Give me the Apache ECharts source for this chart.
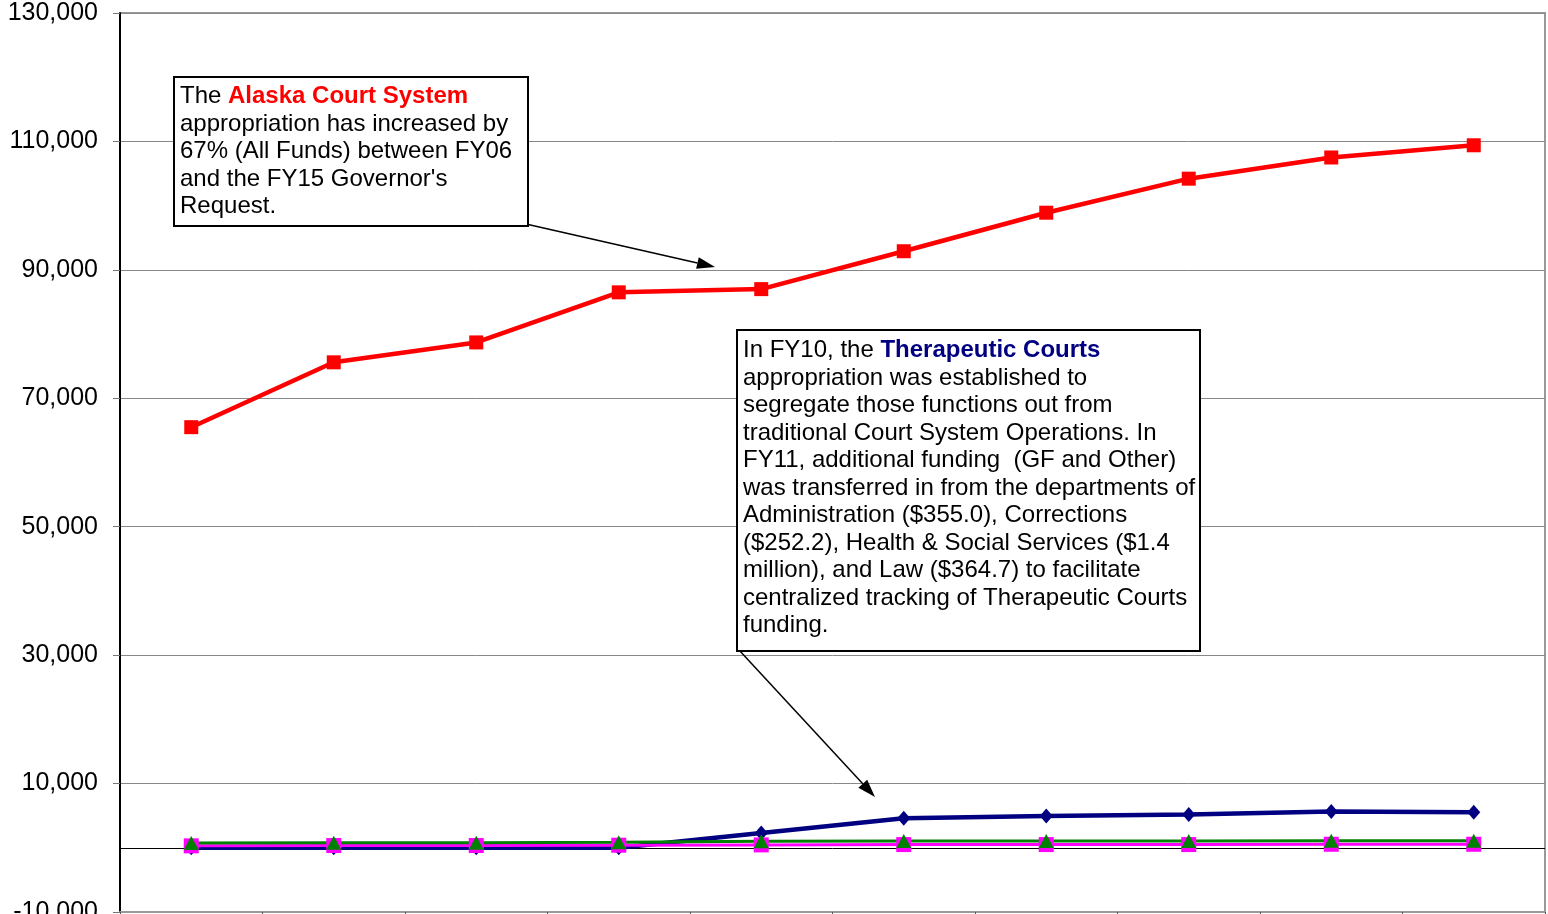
<!DOCTYPE html>
<html>
<head>
<meta charset="utf-8">
<script src="https://cdn.jsdelivr.net/npm/echarts@6/dist/echarts.min.js"></script>
<style>html,body{margin:0;padding:0;background:#fff;}#c{width:1548px;height:914px;}</style>
</head>
<body>
<div id="c"></div>
<script>
var categories = ['FY06','FY07','FY08','FY09','FY10','FY11','FY12','FY13','FY14','FY15'];
var alaskaCourtSystem = [65500, 75600, 78700, 86500, 87000, 92900, 98900, 104200, 107500, 109400];
var therapeuticCourts = [0, 0, 0, 0, 2300, 4600, 4950, 5200, 5650, 5550];
var commissionJudicialConduct = [300, 350, 350, 400, 450, 500, 500, 500, 550, 550];
var judicialCouncil = [750, 800, 800, 850, 1000, 1050, 1050, 1050, 1100, 1100];
var yTicks = {min: -10000, max: 130000, interval: 20000};

var chart = echarts.init(document.getElementById('c'), null, {renderer: 'canvas'});
var FONT = '"Liberation Sans", Arial, sans-serif';

function arrow(x1, y1, x2, y2) {
  var ang = Math.atan2(y2 - y1, x2 - x1);
  var L = 18, W = 6;
  var bx = x2 - L * Math.cos(ang), by = y2 - L * Math.sin(ang);
  var px = -Math.sin(ang) * W, py = Math.cos(ang) * W;
  return [
    {type: 'line', shape: {x1: x1, y1: y1, x2: bx, y2: by}, style: {stroke: '#000', lineWidth: 1.5}, z: 100},
    {type: 'polygon', shape: {points: [[x2, y2], [bx + px, by + py], [bx - px, by - py]]}, style: {fill: '#000'}, z: 100}
  ];
}

var graphics = [
  {type: 'rect', shape: {x: 174, y: 77, width: 354, height: 149}, style: {fill: '#fff', stroke: '#000', lineWidth: 2}, z: 101},
  {type: 'text', x: 180, y: 83, z: 102, style: {
    text: '{n|The }{r|Alaska Court System}\n{n|appropriation has increased by}\n{n|67% (All Funds) between FY06}\n{n|and the FY15 Governor\'s}\n{n|Request.}',
    font: '24px ' + FONT, fill: '#000', lineHeight: 27.5,
    rich: {
      n: {fontSize: 24, fontFamily: FONT, fill: '#000', lineHeight: 27.5},
      r: {fontSize: 24, fontFamily: FONT, fill: '#ff0000', fontWeight: 'bold', lineHeight: 27.5}
    }
  }},
  {type: 'rect', shape: {x: 737, y: 330, width: 463, height: 321}, style: {fill: '#fff', stroke: '#000', lineWidth: 2}, z: 101},
  {type: 'text', x: 743, y: 337, z: 102, style: {
    text: '{n|In FY10, the }{b|Therapeutic Courts}\n{n|appropriation was established to}\n{n|segregate those functions out from}\n{n|traditional Court System Operations. In}\n{n|FY11, additional funding  (GF and Other)}\n{n|was transferred in from the departments of}\n{n|Administration ($355.0), Corrections}\n{n|($252.2), Health & Social Services ($1.4}\n{n|million), and Law ($364.7) to facilitate}\n{n|centralized tracking of Therapeutic Courts}\n{n|funding.}',
    font: '24px ' + FONT, fill: '#000', lineHeight: 27.5,
    rich: {
      n: {fontSize: 24, fontFamily: FONT, fill: '#000', lineHeight: 27.5},
      b: {fontSize: 24, fontFamily: FONT, fill: '#000080', fontWeight: 'bold', lineHeight: 27.5}
    }
  }}
].concat(arrow(526, 224, 715, 267)).concat(arrow(739, 650, 875, 797));

var option = {
  backgroundColor: '#fff',
  animation: false,
  grid: {left: 120, right: 3, top: 13, bottom: 2, show: true, borderColor: '#999', borderWidth: 2,
         containLabel: false, outerBoundsMode: 'none'},
  xAxis: {
    type: 'category', data: categories, boundaryGap: true,
    axisLine: {show: true, onZero: false, lineStyle: {color: '#999', width: 2}},
    axisTick: {show: true, length: 6, lineStyle: {color: '#555'}},
    axisLabel: {show: false},
    splitLine: {show: false}
  },
  yAxis: {
    type: 'value', min: yTicks.min, max: yTicks.max, interval: yTicks.interval,
    axisLine: {show: true, lineStyle: {color: '#000', width: 2}},
    axisTick: {show: true, length: 7, lineStyle: {color: '#777'}},
    axisLabel: {
      color: '#000', fontSize: 25, fontFamily: FONT, margin: 22,
      formatter: function (v) { return v.toLocaleString('en-US'); }
    },
    splitLine: {show: true, lineStyle: {color: '#888', width: 1}}
  },
  series: [
    {
      name: 'Alaska Court System', type: 'line', data: alaskaCourtSystem,
      symbol: 'rect', symbolSize: 14, itemStyle: {color: '#ff0000'},
      lineStyle: {color: '#ff0000', width: 4.5}, z: 5,
      markLine: {silent: true, symbol: 'none', label: {show: false},
        lineStyle: {color: '#000', width: 1, type: 'solid'}, data: [{yAxis: 0}], z: 1}
    },
    {
      name: 'Therapeutic Courts', type: 'line', data: therapeuticCourts,
      symbol: 'diamond', symbolSize: [13, 15], itemStyle: {color: '#000080'},
      lineStyle: {color: '#000080', width: 4.5}, z: 3
    },
    {
      name: 'Commission on Judicial Conduct', type: 'line', data: commissionJudicialConduct,
      symbol: 'rect', symbolSize: 15, itemStyle: {color: '#ff00ff'},
      lineStyle: {color: '#ff00ff', width: 3}, z: 4
    },
    {
      name: 'Judicial Council', type: 'line', data: judicialCouncil,
      symbol: 'triangle', symbolSize: [15, 14], itemStyle: {color: '#008000'},
      lineStyle: {color: '#008000', width: 3}, z: 4
    }
  ],
  graphic: graphics
};
chart.setOption(option);
</script>
</body>
</html>
